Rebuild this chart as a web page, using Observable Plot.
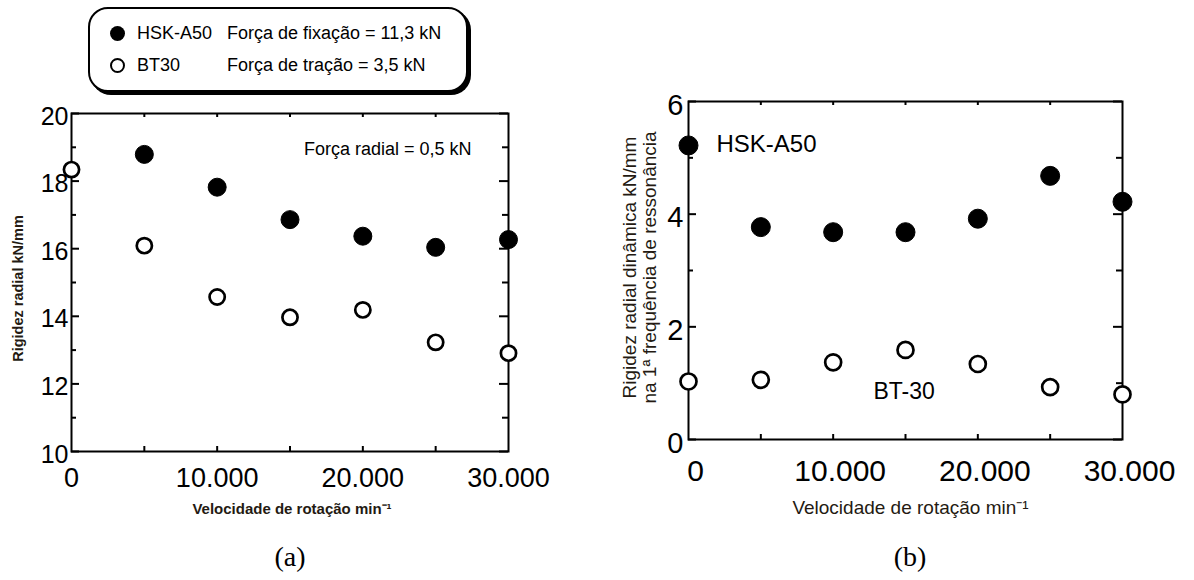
<!DOCTYPE html>
<html>
<head>
<meta charset="utf-8">
<script src="https://cdn.jsdelivr.net/npm/d3@7"></script>
<script src="https://cdn.jsdelivr.net/npm/@observablehq/plot@0.6"></script>
<style>
  body { margin: 0; background: #fff; font-family: "Liberation Sans", Arial, sans-serif; }
  #wrap { position: relative; width: 1194px; height: 580px; overflow: hidden; background: #fff; }
  #chartA { position: absolute; left: 0; top: 90px; }
  #chartB { position: absolute; left: 580px; top: 80px; }
  .legend { position: absolute; left: 88px; top: 7px; width: 376px; height: 81px;
            border: 2px solid #000; border-radius: 20px; box-shadow: 3px 3px 0 #000; background: #fff; }
  .legend .row { position: absolute; left: 0; height: 24px; display: flex; align-items: center;
                 font-size: 18px; color: #000; white-space: nowrap; }
  .legend .sym { position: absolute; left: 20px; width: 15px; height: 15px; border-radius: 50%; box-sizing: border-box; }
  .legend .name { position: absolute; left: 47px; }
  .legend .note { position: absolute; left: 137px; }
  .caption { position: absolute; top: 541px; width: 80px; margin-left: -40px; text-align: center;
             font-family: "Liberation Serif", "Times New Roman", serif; font-size: 28px; color: #000; }
</style>
</head>
<body>
<div id="wrap">
  <div id="chartA"></div>
  <div id="chartB"></div>
  <div class="legend" id="legend"></div>
  <div class="caption" style="left:290px">(a)</div>
  <div class="caption" style="left:910px">(b)</div>
</div>
<script>
// ---------- data ----------
const speeds = [0, 5000, 10000, 15000, 20000, 25000, 30000];
// (a) static radial stiffness, kN/mm
const hskStaticSpeeds = [5000, 10000, 15000, 20000, 25000, 30000];
const hskStatic = [18.79, 17.82, 16.86, 16.37, 16.04, 16.27];
const bt30Static = [18.34, 16.09, 14.57, 13.97, 14.19, 13.23, 12.91];
// (b) dynamic radial stiffness at 1st resonance frequency, kN/mm
const hskDynamic = [5.22, 3.77, 3.68, 3.68, 3.92, 4.68, 4.22];
const bt30Dynamic = [1.03, 1.06, 1.37, 1.59, 1.34, 0.93, 0.80];

const xTicks = [0, 10000, 20000, 30000];
const xTickLabels = ["0", "10.000", "20.000", "30.000"];
const xMinorTicks = [5000, 10000, 15000, 20000, 25000];
const yTicksA = [10, 12, 14, 16, 18, 20];
const yMinorA = [11, 13, 15, 17, 19];
const yTicksB = [0, 2, 4, 6];
const yMinorB = [1, 3, 5];

const legendNames = ["HSK-A50", "BT30"];
const legendNotes = ["Força de fixação = 11,3 kN", "Força de tração = 3,5 kN"];
const xTitle = "Velocidade de rotação min⁻¹";
const yTitleA = "Rigidez radial kN/mm";
const yTitleB = "Rigidez radial dinâmica kN/mm\nna 1ª frequência de ressonância";
const noteA = "Força radial = 0,5 kN";
const seriesLabelsB = ["HSK-A50", "BT-30"];

// ---------- tables ----------
const hskA = hskStaticSpeeds.map((s, i) => ({speed: s, value: hskStatic[i]}));
const btA = speeds.map((s, i) => ({speed: s, value: bt30Static[i]}));
const hskB = speeds.map((s, i) => ({speed: s, value: hskDynamic[i]}));
const btB = speeds.map((s, i) => ({speed: s, value: bt30Dynamic[i]}));

const fmtX = d => xTickLabels[xTicks.indexOf(d)];
const fmtY = d => String(d);
const font = "'Liberation Sans', Arial, sans-serif";
const ink = "#000";
const titleInk = "#241a12";

// inward ticks on all four sides of the frame
function frameTicks(fw, fh, yMajor, yMinor) {
  const sw = 2;
  return [
    Plot.frame({stroke: ink, strokeWidth: 2}),
    Plot.tickY(yMajor, {y: d => d, insetRight: fw - 8, stroke: ink, strokeWidth: sw}),
    Plot.tickY(yMinor, {y: d => d, insetRight: fw - 5, stroke: ink, strokeWidth: sw}),
    Plot.tickY(yMajor, {y: d => d, insetLeft: fw - 9, stroke: ink, strokeWidth: sw}),
    Plot.tickY(yMinor, {y: d => d, insetLeft: fw - 6, stroke: ink, strokeWidth: sw}),
    Plot.tickX(xMinorTicks, {x: d => d, insetTop: fh - 5, stroke: ink, strokeWidth: sw}),
    Plot.tickX(xMinorTicks, {x: d => d, insetBottom: fh - 4, stroke: ink, strokeWidth: sw})
  ];
}

// ---------- chart (a) ----------
const A = {w: 560, h: 440, l: 71, r: 52, t: 23, b: 79};
const chartA = Plot.plot({
  width: A.w, height: A.h,
  marginLeft: A.l, marginRight: A.r, marginTop: A.t, marginBottom: A.b,
  style: {fontFamily: font, color: ink, background: "transparent", overflow: "visible"},
  x: {domain: [0, 30000]},
  y: {domain: [10, 20]},
  marks: [
    ...frameTicks(A.w - A.l - A.r, A.h - A.t - A.b, yTicksA, yMinorA),
    Plot.axisY(yTicksA, {anchor: "left", tickSize: 0, tickPadding: 3, fontSize: 25, dy: 3, tickFormat: fmtY, label: null}),
    Plot.axisX(xTicks, {anchor: "bottom", tickSize: 0, tickPadding: 16, fontSize: 27, tickFormat: fmtX, label: null}),
    Plot.dot(hskA, {x: "speed", y: "value", r: 9, fill: ink, stroke: ink, strokeWidth: 1}),
    Plot.dot(btA, {x: "speed", y: "value", r: 7.6, fill: "#fff", stroke: ink, strokeWidth: 2.7}),
    Plot.text([noteA], {text: d => d, frameAnchor: "top-right", textAnchor: "end", lineAnchor: "middle", dx: -37, dy: 36, fontSize: 18, fill: ink}),
    Plot.text([xTitle], {text: d => d, frameAnchor: "bottom", textAnchor: "middle", lineAnchor: "middle", dx: 2, dy: 58, fontSize: 15, fontWeight: "bold", fill: titleInk}),
    Plot.text([yTitleA], {text: d => d, frameAnchor: "left", textAnchor: "middle", lineAnchor: "middle", rotate: -90, dx: -53, dy: 6, fontSize: 14.5, fontWeight: "bold", fill: titleInk})
  ]
});
document.getElementById("chartA").appendChild(chartA);

// ---------- chart (b) ----------
const B = {w: 614, h: 450, l: 108, r: 72, t: 21, b: 91};
const chartB = Plot.plot({
  width: B.w, height: B.h,
  marginLeft: B.l, marginRight: B.r, marginTop: B.t, marginBottom: B.b,
  style: {fontFamily: font, color: ink, background: "transparent", overflow: "visible"},
  x: {domain: [0, 30000]},
  y: {domain: [0, 6]},
  marks: [
    ...frameTicks(B.w - B.l - B.r, B.h - B.t - B.b, yTicksB, yMinorB),
    Plot.axisY(yTicksB, {anchor: "left", tickSize: 0, tickPadding: 5, fontSize: 29, dy: 4, tickFormat: fmtY, label: null}),
    Plot.axisX(xTicks, {anchor: "bottom", tickSize: 0, tickPadding: 20, fontSize: 30, dx: 7, tickFormat: fmtX, label: null}),
    Plot.dot(hskB, {x: "speed", y: "value", r: 9.5, fill: ink, stroke: ink, strokeWidth: 1}),
    Plot.dot(btB, {x: "speed", y: "value", r: 8, fill: "#fff", stroke: ink, strokeWidth: 2.7}),
    Plot.text([seriesLabelsB[0]], {text: d => d, frameAnchor: "top-left", textAnchor: "start", lineAnchor: "middle", dx: 28, dy: 43, fontSize: 24, fill: ink}),
    Plot.text([seriesLabelsB[1]], {text: d => d, frameAnchor: "bottom-left", textAnchor: "start", lineAnchor: "middle", dx: 185, dy: -48, fontSize: 23, fill: ink}),
    Plot.text([xTitle], {text: d => d, frameAnchor: "bottom", textAnchor: "middle", lineAnchor: "middle", dx: 5, dy: 68, fontSize: 19, fill: titleInk}),
    Plot.text([yTitleB], {text: d => d, frameAnchor: "left", textAnchor: "middle", lineAnchor: "middle", rotate: -90, dx: -49, dy: -3, fontSize: 19, lineHeight: 1.07, fill: titleInk})
  ]
});
document.getElementById("chartB").appendChild(chartB);

// ---------- legend ----------
const legend = document.getElementById("legend");
legendNames.forEach((name, i) => {
  const row = document.createElement("div");
  row.className = "row";
  row.style.top = (12 + i * 32) + "px";
  row.style.width = "100%";
  const sym = document.createElement("span");
  sym.className = "sym";
  if (i === 0) { sym.style.background = "#000"; }
  else { sym.style.background = "#fff"; sym.style.border = "2.6px solid #000"; }
  const n = document.createElement("span");
  n.className = "name"; n.textContent = name;
  const t = document.createElement("span");
  t.className = "note"; t.textContent = legendNotes[i];
  row.append(sym, n, t);
  legend.appendChild(row);
});
</script>
</body>
</html>
